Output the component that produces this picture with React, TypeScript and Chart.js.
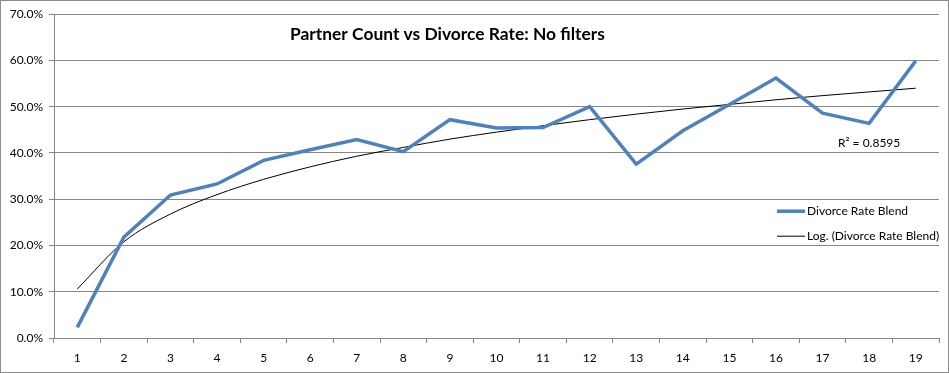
import React, { useEffect, useRef } from "react";
import { Chart, registerables } from "chart.js";

Chart.register(...registerables);

const categories = ["1","2","3","4","5","6","7","8","9","10","11","12","13","14","15","16","17","18","19"];
const divorceRate = [2.3, 21.8, 30.9, 33.3, 38.4, 40.7, 42.9, 40.3, 47.2, 45.4, 45.5, 50.0, 37.6, 44.8, 50.5, 56.2, 48.6, 46.4, 59.9];
const trendValues = [10.6, 20.8, 26.8, 31.0, 34.3, 37.0, 39.3, 41.2, 43.0, 44.5, 45.9, 47.2, 48.4, 49.5, 50.5, 51.5, 52.4, 53.2, 54.0];
const seriesLabel = "Divorce Rate Blend";
const trendLabel = "Log. (Divorce Rate Blend)";
const titleText = "Partner Count vs Divorce Rate: No filters";
const r2Text = "R² = 0.8595";

const FONT = "Lato, 'Open Sans', sans-serif";

const overlayPlugin = {
  id: "overlay",
  afterDraw(chart: any) {
    const ctx = chart.ctx;
    const ca = chart.chartArea;
    ctx.save();
    // title
    ctx.fillStyle = "#000";
    ctx.font = `bold 17.4px ${FONT}`;
    ctx.textBaseline = "middle";
    ctx.textAlign = "left";
    ctx.fillText(titleText, ca.left + 236, ca.top + 20);
    // R2 label
    ctx.font = `12px ${FONT}`;
    ctx.fillText(r2Text, ca.left + 784, ca.top + 129);
    // legend
    const ds = chart.data.datasets;
    const rows = [ca.top + 197, ca.top + 222];
    ds.forEach((d: any, i: number) => {
      const y = rows[i];
      ctx.strokeStyle = d.borderColor;
      ctx.lineWidth = d.borderWidth;
      ctx.beginPath();
      ctx.moveTo(ca.left + 723, y);
      ctx.lineTo(ca.left + 751, y);
      ctx.stroke();
      ctx.fillStyle = "#000";
      ctx.font = `12px ${FONT}`;
      ctx.fillText(d.label, ca.left + 753, y);
    });
    ctx.restore();
  },
};

export default function App() {
  const ref = useRef<HTMLCanvasElement>(null);
  useEffect(() => {
    document.body.style.margin = "0";
    const chart = new Chart(ref.current!, {
      type: "line",
      data: {
        labels: categories,
        datasets: [
          {
            label: seriesLabel,
            data: divorceRate,
            borderColor: "#4F81BD",
            borderWidth: 3.5,
            pointRadius: 0,
            tension: 0,
            borderJoinStyle: "miter",
          },
          {
            label: trendLabel,
            data: trendValues,
            borderColor: "#000000",
            borderWidth: 1,
            pointRadius: 0,
            cubicInterpolationMode: "monotone",
          },
        ],
      },
      options: {
        animation: false,
        responsive: false,
        layout: { padding: { top: 13, right: 9, left: 0, bottom: 0 } },
        plugins: {
          legend: { display: false },
          title: { display: false },
          tooltip: { enabled: false },
        },
        scales: {
          x: {
            offset: true,
            grid: {
              offset: true,
              drawOnChartArea: false,
              drawTicks: true,
              tickLength: 5,
              color: "#868686",
            },
            border: { color: "#868686", width: 1 },
            ticks: {
              color: "#000",
              font: { family: FONT, size: 12 },
              padding: 8,
              maxRotation: 0,
              autoSkip: false,
            },
            afterFit(scale: any) {
              scale.height = 34;
            },
          },
          y: {
            min: 0,
            max: 70,
            grid: {
              color: "#868686",
              drawTicks: true,
              tickLength: 5,
            },
            border: { color: "#868686", width: 1 },
            ticks: {
              stepSize: 10,
              color: "#000",
              font: { family: FONT, size: 12 },
              padding: 6,
              callback: (v: any) => Number(v).toFixed(1) + "%",
            },
            afterFit(scale: any) {
              scale.width = 53;
            },
          },
        },
      },
      plugins: [overlayPlugin],
    } as any);
    return () => chart.destroy();
  }, []);
  return (
    <div
      style={{
        position: "absolute",
        left: 0,
        top: 0,
        width: 949,
        height: 373,
        border: "1px solid #8c8c8c",
        boxSizing: "border-box",
        background: "#fff",
      }}
    >
      <canvas ref={ref} width={947} height={371} style={{ display: "block" }} />
    </div>
  );
}
